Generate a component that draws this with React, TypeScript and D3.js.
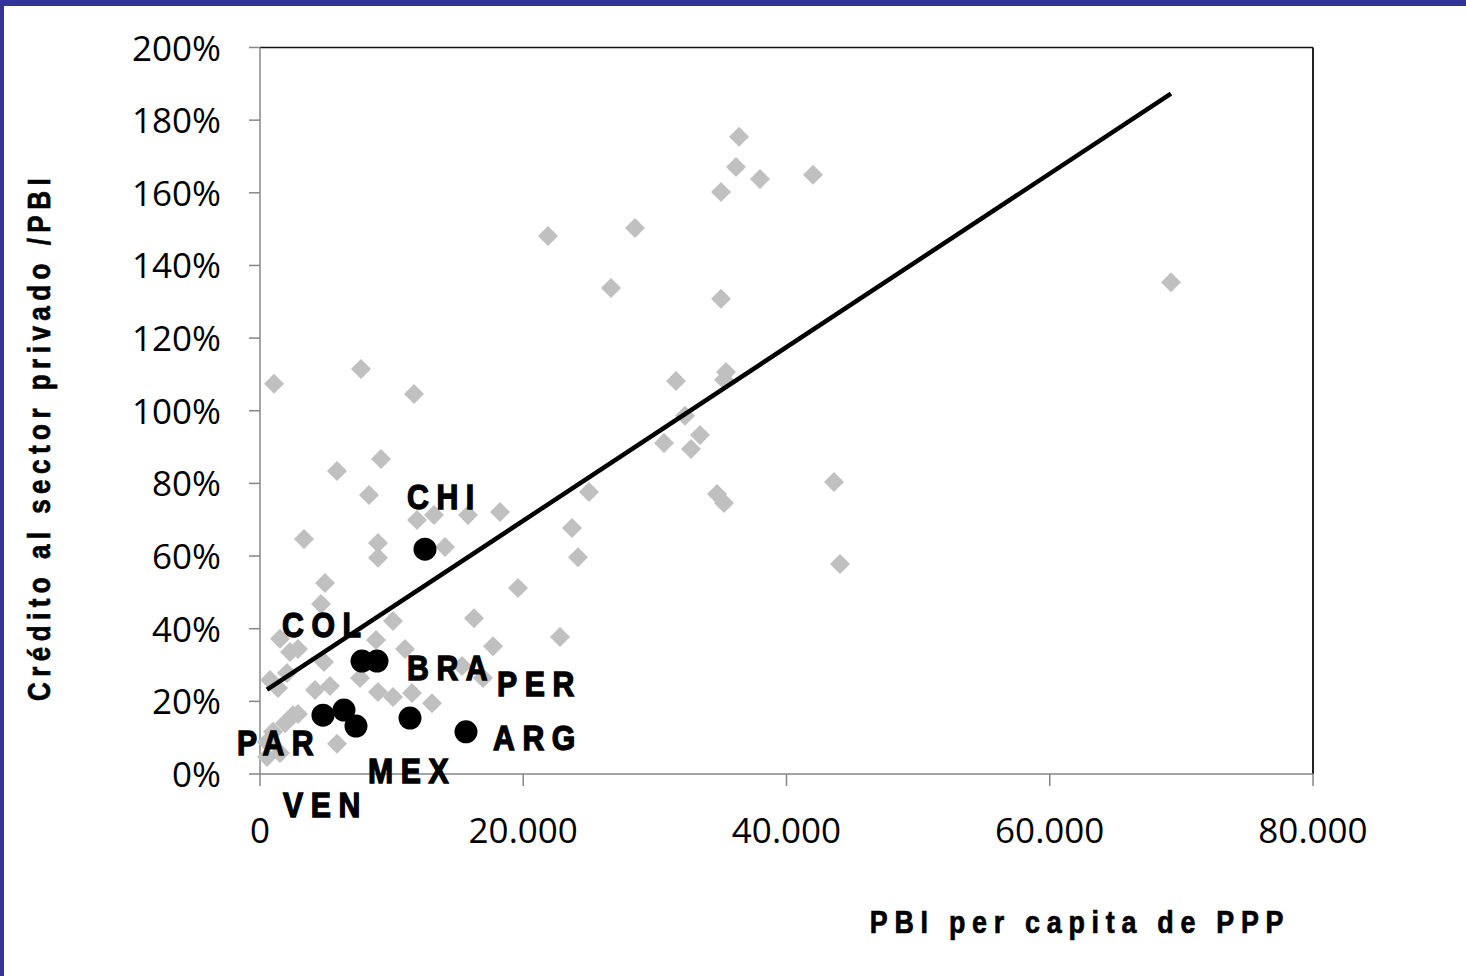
import React from "react";
import * as d3 from "d3";

// Credit to the private sector (% of GDP) against GDP per capita (PPP), world sample
const WORLD_GDP = [
  36391, 36163, 37987, 42013, 35024, 21880, 28490, 26667, 35024, 69211,
  1064, 7674, 11700, 31605, 35403, 35251, 32289, 30693, 33428, 32744,
  43608, 34719, 35251, 44064, 24995, 23704, 24159, 22792, 19601, 18233,
  15802, 13219, 11927, 14055, 16258, 17701, 15346, 16942, 5850, 9193,
  8281, 3343, 8965, 8965, 4938, 4634, 10104, 8813, 1519, 2279,
  2887, 4862, 11016, 760, 2051, 1367, 4178, 5318, 7597, 8965,
  10104, 11548, 13067, 2507, 2887, 1899, 988, 532, 1519, 532,
  5850,
];
const WORLD_CREDIT = [
  1.754, 1.671, 1.638, 1.65, 1.602, 1.481, 1.503, 1.338, 1.308, 1.354,
  1.074, 1.115, 1.046, 1.082, 1.107, 1.085, 0.986, 0.911, 0.933, 0.895,
  0.804, 0.771, 0.746, 0.578, 0.776, 0.677, 0.597, 0.377, 0.512, 0.721,
  0.713, 0.713, 0.699, 0.625, 0.429, 0.352, 0.297, 0.264, 0.834, 0.867,
  0.768, 0.647, 0.636, 0.595, 0.526, 0.468, 0.421, 0.369, 0.372, 0.336,
  0.344, 0.308, 0.344, 0.259, 0.278, 0.237, 0.231, 0.242, 0.264, 0.226,
  0.212, 0.223, 0.195, 0.162, 0.165, 0.14, 0.116, 0.088, 0.058, 0.047,
  0.083,
];

// Latin American countries highlighted
const COUNTRIES = ["PAR", "PER", "VEN", "COL", "BRA", "MEX", "ARG", "CHI"];
const COUNTRY_GDP = [4786, 6381, 7293, 7749, 8889, 11396, 15650, 12535];
const COUNTRY_CREDIT = [0.162, 0.176, 0.132, 0.311, 0.311, 0.154, 0.116, 0.619];

// Linear trend: credit = TREND_INTERCEPT + TREND_SLOPE * gdp
const TREND_INTERCEPT = 0.2195;
const TREND_SLOPE = 0.00002389;

const X_TICKS = [0, 20000, 40000, 60000, 80000];
const Y_TICKS = [0, 0.2, 0.4, 0.6, 0.8, 1.0, 1.2, 1.4, 1.6, 1.8, 2.0];

const X_TITLE = "PBI per capita de PPP";
const Y_TITLE = "Crédito al sector privado /PBI";

// Label placement relative to each country marker (text start, baseline)
const LABEL_OFFSET: Record<string, [number, number]> = {
  PAR: [-86, 40],
  PER: [153, -14],
  VEN: [-73, 91],
  COL: [-80, -24],
  BRA: [30, 19],
  MEX: [-42, 65],
  ARG: [27, 18],
  CHI: [-18, -40],
};

const W = 1466;
const H = 976;
const PLOT = { left: 260, right: 1313, top: 47.5, bottom: 774 };
const FRAME = "#333399";
const AXIS = "#868686";
const TICK_FONT = "'Open Sans', 'DejaVu Sans', sans-serif";
const BOLD_FONT = "'Liberation Sans', Arial, sans-serif";
const CONDENSE = 0.84;

const fmtThousands = (v: number) =>
  v === 0 ? "0" : d3.format(",")(v).replace(/,/g, ".");
const fmtPct = d3.format(".0%");

export default function App() {
  const x = d3.scaleLinear().domain([0, 80000]).range([PLOT.left, PLOT.right]);
  const y = d3.scaleLinear().domain([0, 2]).range([PLOT.bottom, PLOT.top]);

  const diamond = d3.symbol(d3.symbolDiamond2, 255)() as string;

  const minX = d3.min(WORLD_GDP) as number;
  const maxX = d3.max(WORLD_GDP) as number;
  const trend = d3
    .line<number>()
    .x((g) => x(g))
    .y((g) => y(TREND_INTERCEPT + TREND_SLOPE * g))([minX, maxX]) as string;

  return (
    <svg
      width={W}
      height={H}
      viewBox={`0 0 ${W} ${H}`}
      style={{ position: "absolute", left: 0, top: 0, display: "block" }}
    >
      <rect x={0} y={0} width={W} height={H} fill="#ffffff" />
      {/* slide frame */}
      <rect x={0} y={0} width={W} height={6} fill={FRAME} />
      <rect x={0} y={0} width={4} height={H} fill={FRAME} />

      {/* plot box: dark top/right edges, grey axes */}
      <line x1={PLOT.left} x2={PLOT.right} y1={PLOT.top} y2={PLOT.top} stroke="#111" strokeWidth={1.5} />
      <line x1={PLOT.right} x2={PLOT.right} y1={PLOT.top} y2={PLOT.bottom} stroke="#222" strokeWidth={2} />
      <line x1={PLOT.left} x2={PLOT.left} y1={PLOT.top} y2={PLOT.bottom} stroke={AXIS} strokeWidth={1.5} />
      <line x1={PLOT.left} x2={PLOT.right} y1={PLOT.bottom} y2={PLOT.bottom} stroke={AXIS} strokeWidth={1.5} />

      {/* y axis ticks and labels */}
      {Y_TICKS.map((t) => (
        <g key={"y" + t}>
          <line x1={PLOT.left - 11} x2={PLOT.left} y1={y(t)} y2={y(t)} stroke={AXIS} strokeWidth={1.5} />
          <text
            x={221}
            y={y(t) + 13}
            textAnchor="end"
            fontFamily={TICK_FONT}
            fontSize={35}
            fill="#000"
          >
            {fmtPct(t)}
          </text>
        </g>
      ))}

      {/* x axis ticks and labels */}
      {X_TICKS.map((t) => (
        <g key={"x" + t}>
          <line x1={x(t)} x2={x(t)} y1={PLOT.bottom} y2={PLOT.bottom + 12} stroke={AXIS} strokeWidth={1.5} />
          <text
            x={x(t)}
            y={843}
            textAnchor="middle"
            fontFamily={TICK_FONT}
            fontSize={35}
            fill="#000"
          >
            {fmtThousands(t)}
          </text>
        </g>
      ))}

      {/* world sample */}
      {WORLD_GDP.map((g, i) => (
        <path
          key={"w" + i}
          d={diamond}
          transform={`translate(${x(g)},${y(WORLD_CREDIT[i])})`}
          fill="#c0c0c0"
        />
      ))}

      {/* trend line */}
      <path d={trend} fill="none" stroke="#000" strokeWidth={4.5} />

      {/* highlighted countries */}
      {COUNTRIES.map((c, i) => (
        <circle key={"c" + c} cx={x(COUNTRY_GDP[i])} cy={y(COUNTRY_CREDIT[i])} r={11.5} fill="#000" />
      ))}
      {COUNTRIES.map((c, i) => {
        const [dx, dy] = LABEL_OFFSET[c];
        return (
          <text
            key={"l" + c}
            transform={`translate(${x(COUNTRY_GDP[i]) + dx},${y(COUNTRY_CREDIT[i]) + dy}) scale(${CONDENSE},1)`}
            fontFamily={BOLD_FONT}
            fontWeight="bold"
            fontSize={36}
            letterSpacing={9}
            fill="#000"
            stroke="#000"
            strokeWidth={1.4}
          >
            {c}
          </text>
        );
      })}

      {/* axis titles */}
      <text
        transform={`translate(1080,933) scale(${CONDENSE},1)`}
        textAnchor="middle"
        fontFamily={BOLD_FONT}
        fontWeight="bold"
        fontSize={32}
        letterSpacing={8}
        fill="#000"
        stroke="#000"
        strokeWidth={0.7}
      >
        {X_TITLE}
      </text>
      <text
        transform={`translate(50,437) rotate(-90) scale(${CONDENSE},1)`}
        textAnchor="middle"
        fontFamily={BOLD_FONT}
        fontWeight="bold"
        fontSize={31}
        letterSpacing={6.5}
        fill="#000"
        stroke="#000"
        strokeWidth={0.7}
      >
        {Y_TITLE}
      </text>
    </svg>
  );
}
